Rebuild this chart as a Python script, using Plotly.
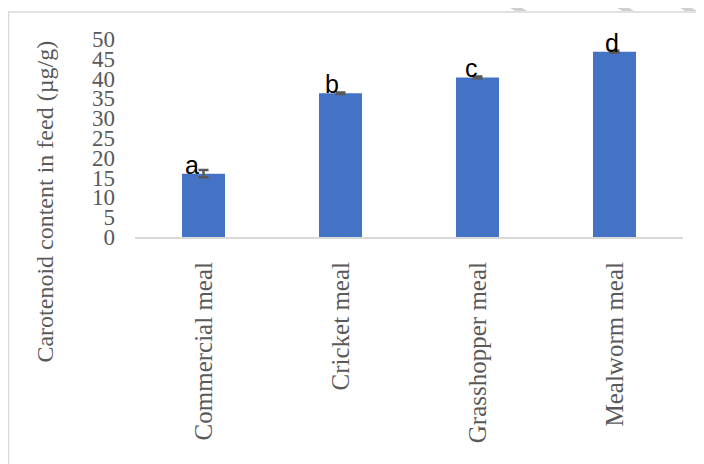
import plotly.graph_objects as go

categories = ["Commercial meal", "Cricket meal", "Grasshopper meal", "Mealworm meal"]
values = [16.0, 36.3, 40.3, 46.8]
errors = [0.9, 0.2, 0.2, 0.25]
letters = ["a", "b", "c", "d"]
y_ticks = [0, 5, 10, 15, 20, 25, 30, 35, 40, 45, 50]

OFF = 8  # default page margin around the figure
W, H = 704 - OFF, 464 - OFF
L = 135 - OFF
T = 39 - OFF
R = W - (683 - OFF)
B = H - (237.5 - OFF)
PW, PH = W - L - R, H - T - B

def px(x):
    return (x - OFF - L) / PW

def py(y):
    return (H - B - (y - OFF)) / PH

gray = "#595959"
serif = "Liberation Serif"

fig = go.Figure()
fig.add_trace(go.Bar(
    x=categories, y=values, width=0.314,
    marker=dict(color="#4472C4", line=dict(width=0)),
    error_y=dict(type="data", array=errors, visible=True,
                 color=gray, thickness=2.5, width=5),
    hoverinfo="skip",
))

letter_shift = [-12, -8.5, -6.5, -2.5]
for cat, v, lt, xs in zip(categories, values, letters, letter_shift):
    fig.add_annotation(x=cat, y=v, text=lt, showarrow=False,
                       xanchor="center", yanchor="bottom", xshift=xs, yshift=-7,
                       font=dict(family="Liberation Sans", size=25, color="#000000"))

fig.add_annotation(xref="paper", yref="paper", x=px(45), y=py(202),
                   text="Carotenoid content in feed (µg/g)", textangle=-90,
                   showarrow=False, xanchor="center", yanchor="middle",
                   font=dict(family=serif, size=24, color=gray))

shapes = [
    dict(type="rect", xref="paper", yref="paper",
         x0=px(8.5), y0=py(480), x1=px(730), y1=py(12),
         line=dict(color="#D9D9D9", width=1.5), fillcolor="rgba(0,0,0,0)", layer="below"),
]
for x0 in [498, 605, 668]:
    path = "M {a},{b} L {c},{b} L {d},{e} L {f},{e} Z".format(
        a=px(x0), b=py(0), c=px(x0 + 12), d=px(x0 + 29), e=py(11), f=px(x0 + 17))
    shapes.append(dict(type="path", xref="paper", yref="paper", path=path,
                       fillcolor="#D0D0D0", line=dict(width=0), layer="below"))

fig.update_layout(
    width=W, height=H,
    margin=dict(l=L, r=R, t=T, b=B, autoexpand=False),
    paper_bgcolor="white", plot_bgcolor="white",
    showlegend=False, shapes=shapes,
    xaxis=dict(showgrid=False, showline=True, linecolor="#D9D9D9", linewidth=2,
               tickangle=-90, ticks="", ticklabelstandoff=13,
               tickfont=dict(family=serif, size=25, color=gray)),
    yaxis=dict(range=[0, 50], showgrid=False, showline=False, zeroline=False,
               tickvals=y_ticks, ticks="", ticklabelstandoff=19,
               tickfont=dict(family=serif, size=23, color=gray)),
)

fig.write_html("out.html")
